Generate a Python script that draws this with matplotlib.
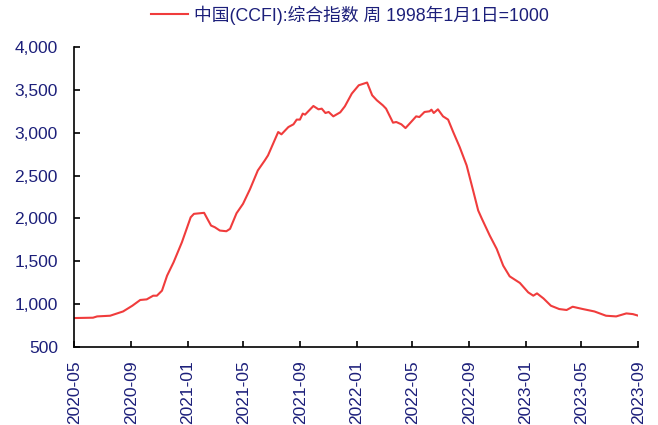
import matplotlib
matplotlib.use("Agg")
import matplotlib.pyplot as plt
import pandas as pd

plt.rcParams['font.family'] = ['Liberation Sans', 'Noto Sans CJK SC', 'DejaVu Sans']

series_name = "中国(CCFI):综合指数 周 1998年1月1日=1000"

dates = [
    "2020-05-02", "2020-06-10", "2020-06-19", "2020-07-17", "2020-08-14",
    "2020-09-03", "2020-09-20", "2020-10-04", "2020-10-18", "2020-10-26",
    "2020-11-06", "2020-11-17", "2020-12-01", "2020-12-19", "2021-01-07",
    "2021-01-14", "2021-02-05", "2021-02-12", "2021-02-20", "2021-02-28",
    "2021-03-11", "2021-03-25", "2021-04-02", "2021-04-16", "2021-04-30",
    "2021-05-15", "2021-06-01", "2021-06-16", "2021-06-23", "2021-07-15",
    "2021-07-22", "2021-08-06", "2021-08-17", "2021-08-24", "2021-08-31",
    "2021-09-06", "2021-09-11", "2021-09-29", "2021-10-10", "2021-10-17",
    "2021-10-25", "2021-11-01", "2021-11-11", "2021-11-26", "2021-12-06",
    "2021-12-21", "2022-01-05", "2022-01-23", "2022-02-03", "2022-02-13",
    "2022-02-26", "2022-03-05", "2022-03-20", "2022-03-27", "2022-04-07",
    "2022-04-16", "2022-04-28", "2022-05-09", "2022-05-16", "2022-05-27",
    "2022-06-07", "2022-06-11", "2022-06-16", "2022-06-25", "2022-07-06",
    "2022-07-17", "2022-07-28", "2022-08-11", "2022-08-26", "2022-09-09",
    "2022-09-20", "2022-09-28", "2022-10-15", "2022-10-30", "2022-11-13",
    "2022-11-27", "2022-12-19", "2023-01-06", "2023-01-17", "2023-01-25",
    "2023-02-08", "2023-02-24", "2023-03-14", "2023-03-30", "2023-04-12",
    "2023-05-04", "2023-05-29", "2023-06-23", "2023-07-15", "2023-08-06",
    "2023-08-20", "2023-09-01",
]

ccfi = [
    836, 840, 855, 863, 913,
    980, 1047, 1054, 1097, 1097,
    1156, 1331, 1487, 1721, 2013,
    2053, 2065, 1995, 1916, 1897,
    1858, 1850, 1878, 2060, 2170,
    2340, 2560, 2677, 2736, 3009,
    2982, 3067, 3099, 3154, 3154,
    3224, 3212, 3313, 3274, 3282,
    3231, 3243, 3192, 3239, 3309,
    3458, 3555, 3587, 3438, 3380,
    3321, 3282, 3118, 3126, 3099,
    3055, 3126, 3192, 3184, 3243,
    3251, 3270, 3231, 3274, 3192,
    3154, 3009, 2833, 2619, 2326,
    2092, 1995, 1799, 1643, 1448,
    1323, 1246, 1136, 1097, 1124,
    1065, 980, 941, 930, 968,
    941, 913, 863, 855, 890,
    882, 863,
]

tick_labels = ["2020-05", "2020-09", "2021-01", "2021-05", "2021-09", "2022-01",
               "2022-05", "2022-09", "2023-01", "2023-05", "2023-09"]
y_ticks = [500, 1000, 1500, 2000, 2500, 3000, 3500, 4000]

text_color = "#1c1f7a"
line_color = "#f03c3c"

x = pd.to_datetime(dates)
tick_dates = pd.to_datetime(tick_labels, format="%Y-%m")

fig = plt.figure(figsize=(6.58, 4.25), dpi=100)
ax = fig.add_axes([0.1132, 0.184, 0.857, 0.705])

ax.plot(x, ccfi, color=line_color, lw=1.5, label=series_name)

ax.set_xlim(tick_dates[0], tick_dates[-1])
ax.set_ylim(500, 4000)
ax.set_xticks(tick_dates)
ax.set_xticklabels(tick_labels, rotation=90, fontsize=12.5, color=text_color)
ax.set_yticks(y_ticks)
ax.set_yticklabels([f"{v:,}" for v in y_ticks], fontsize=12.5, color=text_color)

for side in ("top", "right"):
    ax.spines[side].set_visible(False)
for side in ("left", "bottom"):
    ax.spines[side].set_linewidth(1.2)
    ax.spines[side].set_color("black")
ax.tick_params(axis="both", direction="in", length=4, width=1.2, colors="black",
               labelcolor=text_color)
ax.tick_params(axis="x", pad=10)
ax.tick_params(axis="y", pad=12)

leg = fig.legend(loc="upper center", bbox_to_anchor=(0.532, 1.025), frameon=False,
                 fontsize=12.8, handlelength=2.1, handletextpad=0.35)
for t in leg.get_texts():
    t.set_color(text_color)

fig.savefig("out.png", dpi=100)
